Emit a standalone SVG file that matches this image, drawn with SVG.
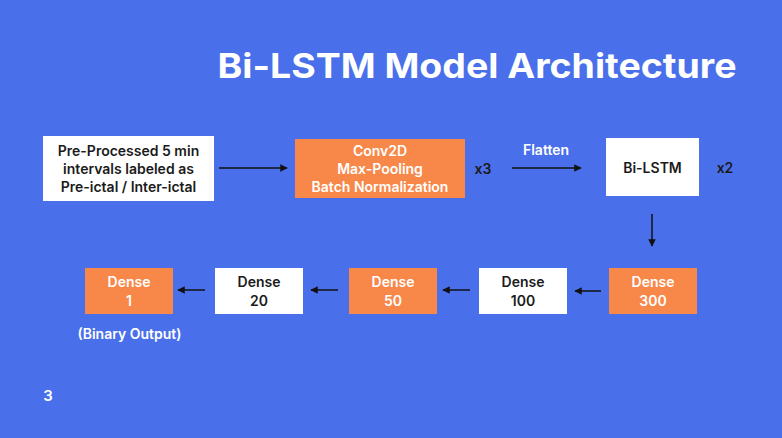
<svg xmlns="http://www.w3.org/2000/svg" width="782" height="438" viewBox="0 0 782 438">
<defs>
<style>
.bg{fill:#4a6fea}
.w{fill:#ffffff}
.o{fill:#f7884a}
text{font-family:Inter,"Open Sans","Liberation Sans",sans-serif;font-weight:600;font-size:14px;text-anchor:middle;dominant-baseline:central}
.dk{fill:#1b1b1b}
.lt{fill:#ffffff}
.ln{stroke:#111111;stroke-width:1.5;fill:none;marker-end:url(#ah)}
</style>
<marker id="ah" viewBox="0 0 10 10" refX="9" refY="5" markerWidth="5" markerHeight="5" orient="auto" markerUnits="strokeWidth">
<path d="M0,0 L10,5 L0,10 z" fill="#111111"/>
</marker>
</defs>
<rect class="bg" x="0" y="0" width="782" height="438"/>
<text id="title" class="lt" x="477" y="65" style="font-size:34px;font-weight:700" textLength="519" lengthAdjust="spacingAndGlyphs">Bi-LSTM Model Architecture</text>
<g id="input">
<rect class="w" x="43" y="136" width="171" height="65"/>
<text class="dk" x="128.5" y="150">Pre-Processed 5 min</text>
<text class="dk" x="128.5" y="168">intervals labeled as</text>
<text class="dk" x="128.5" y="186">Pre-ictal / Inter-ictal</text>
</g>
<g id="conv">
<rect class="o" x="295" y="139" width="170" height="59"/>
<text class="lt" x="380" y="150">Conv2D</text>
<text class="lt" x="380" y="168">Max-Pooling</text>
<text class="lt" x="380" y="186">Batch Normalization</text>
</g>
<text class="dk" x="483" y="168">x3</text>
<text class="lt" x="546" y="149">Flatten</text>
<g id="bilstm">
<rect class="w" x="606" y="138" width="93" height="58"/>
<text class="dk" x="652.5" y="167">Bi-LSTM</text>
</g>
<text class="dk" x="725" y="167">x2</text>
<g id="d300">
<rect class="o" x="609" y="268" width="88" height="46"/>
<text class="lt" x="653" y="281">Dense</text>
<text class="lt" x="653" y="300">300</text>
</g>
<g id="d100">
<rect class="w" x="479" y="268" width="88" height="46"/>
<text class="dk" x="523" y="281">Dense</text>
<text class="dk" x="523" y="300">100</text>
</g>
<g id="d50">
<rect class="o" x="349" y="268" width="88" height="46"/>
<text class="lt" x="393" y="281">Dense</text>
<text class="lt" x="393" y="300">50</text>
</g>
<g id="d20">
<rect class="w" x="215" y="268" width="88" height="46"/>
<text class="dk" x="259" y="281">Dense</text>
<text class="dk" x="259" y="300">20</text>
</g>
<g id="d1">
<rect class="o" x="85" y="268" width="88" height="46"/>
<text class="lt" x="129" y="281">Dense</text>
<text class="lt" x="129" y="300">1</text>
</g>
<text class="lt" x="129.5" y="333">(Binary Output)</text>
<text class="lt" x="48" y="395" style="font-size:15px">3</text>
<g id="connectors">
<line class="ln" x1="219" y1="168" x2="287" y2="168"/>
<line class="ln" x1="512" y1="168" x2="581" y2="168"/>
<line class="ln" x1="652" y1="214" x2="652" y2="246"/>
<line class="ln" x1="601" y1="291" x2="575" y2="291"/>
<line class="ln" x1="470" y1="290" x2="443" y2="290"/>
<line class="ln" x1="338" y1="290" x2="311" y2="290"/>
<line class="ln" x1="205" y1="290" x2="178" y2="290"/>
</g>
</svg>
